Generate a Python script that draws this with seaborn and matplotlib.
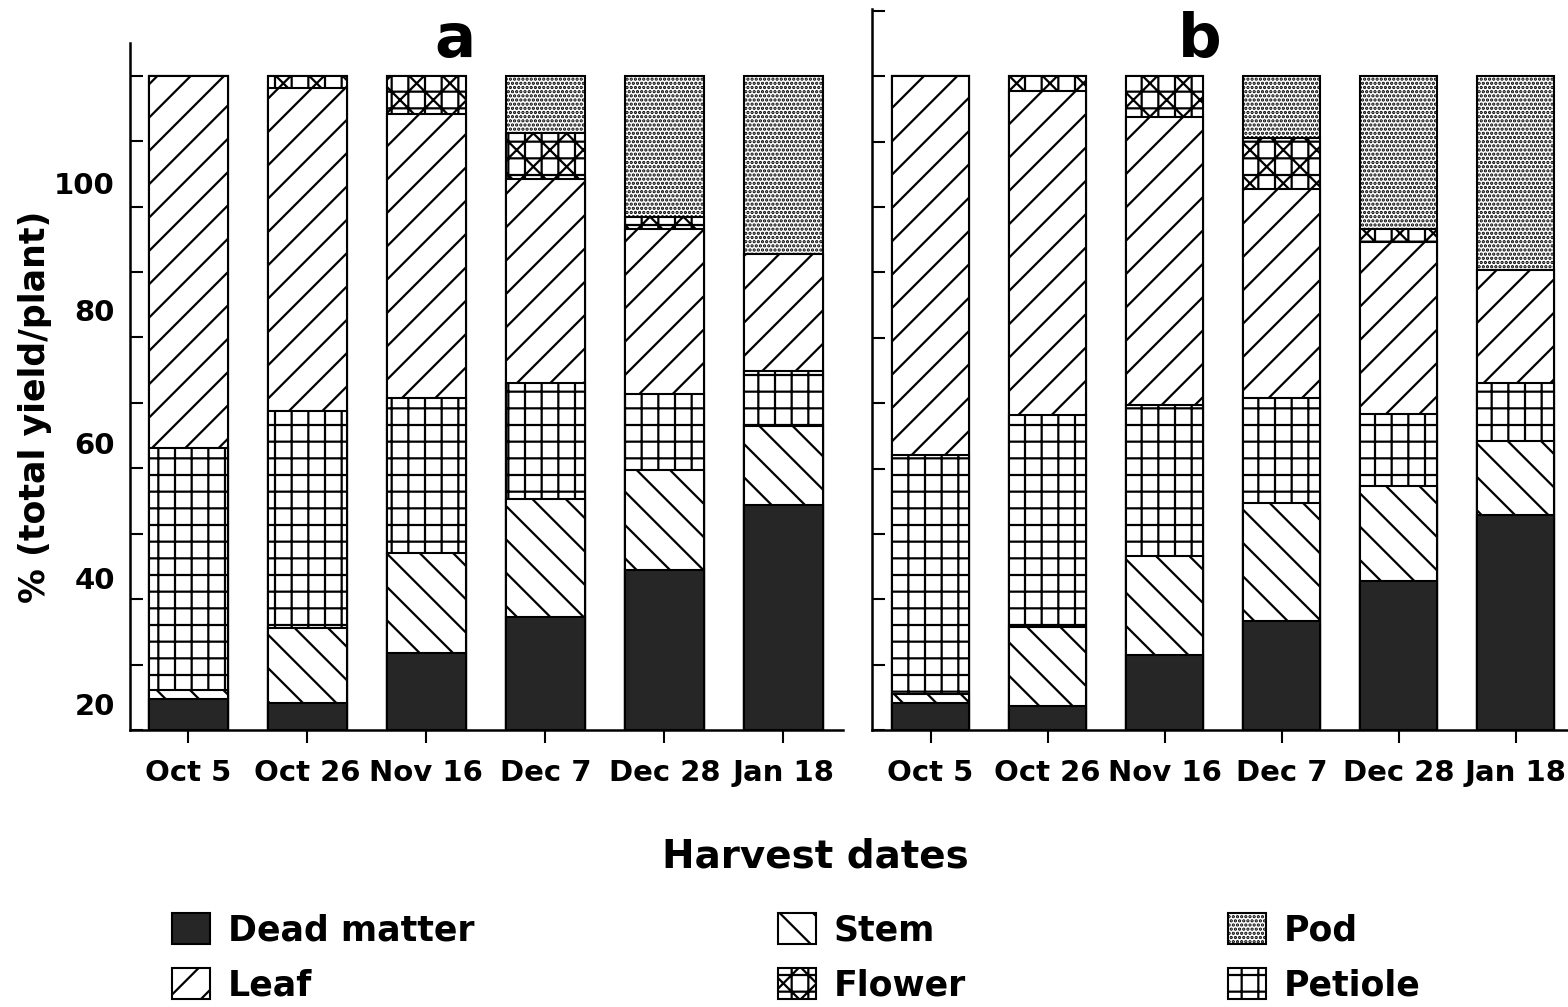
import numpy as np
import matplotlib
matplotlib.use("Agg")
import matplotlib.pyplot as plt
from matplotlib.patches import Patch
import seaborn as sns

# ---------------- data ----------------
dates = ["Oct 5", "Oct 26", "Nov 16", "Dec 7", "Dec 28", "Jan 18"]
# stacking order, bottom -> top
components = ["Dead matter", "Stem", "Petiole", "Leaf", "Flower", "Pod"]

# panel a (% of total yield/plant)
a_dead = [4.7, 4.1, 11.8, 17.3, 24.4, 34.4]
a_stem = [1.4, 11.5, 15.3, 18.0, 15.3, 12.0]
a_petiole = [37.0, 33.1, 23.6, 17.8, 11.6, 8.5]
a_leaf = [56.9, 49.4, 43.5, 31.1, 25.2, 17.9]
a_flower = [0.0, 1.9, 5.8, 7.1, 1.9, 0.0]
a_pod = [0.0, 0.0, 0.0, 8.7, 21.6, 27.2]

# panel b
b_dead = [4.1, 3.7, 11.4, 16.6, 22.8, 32.9]
b_stem = [1.4, 12.0, 15.2, 18.2, 14.6, 11.3]
b_petiole = [36.5, 32.5, 23.1, 16.0, 11.0, 8.9]
b_leaf = [58.0, 49.5, 44.1, 31.9, 26.3, 17.2]
b_flower = [0.0, 2.3, 6.2, 7.9, 2.0, 0.0]
b_pod = [0.0, 0.0, 0.0, 9.4, 23.3, 29.7]

# y-axis tick labels as printed in the original figure
ytick_labels = ["20", "40", "60", "80", "100"]
ytick_label_pos = [4.0, 23.2, 43.9, 64.2, 83.6]

# legend layout (columns)
legend_cols = [["Dead matter", "Leaf"], ["Stem", "Flower"], ["Pod", "Petiole"]]

# ---------------- style ----------------
sns.set_style("ticks")
plt.rcParams["font.family"] = ["DejaVu Sans"]
plt.rcParams["font.weight"] = "bold"
plt.rcParams["hatch.linewidth"] = 1.6
plt.rcParams["hatch.color"] = "black"
for k in ("text.color", "axes.labelcolor", "xtick.color", "ytick.color",
          "axes.edgecolor"):
    plt.rcParams[k] = "black"

styles = {
    "Dead matter": dict(color="#262626", hatch=""),
    "Stem": dict(color="white", hatch="\\"),
    "Petiole": dict(color="white", hatch="+"),
    "Leaf": dict(color="white", hatch="/"),
    "Flower": dict(color="white", hatch="+x"),
    "Pod": dict(color="white", hatch="...."),
}

W, H = 1568, 1007
fig = plt.figure(figsize=(W / 100, H / 100), dpi=100)
fig.patch.set_facecolor("white")

ax_a = fig.add_axes([130 / W, (H - 730) / H, 713 / W, 687 / H])
ax_b = fig.add_axes([872 / W, (H - 730) / H, 702 / W, 721 / H])


def draw_panel(ax, parts, ymax):
    cum = np.cumsum(np.array(parts), axis=0)
    # draw cumulative bars from the top component down so lower parts overlay
    for i in range(len(components) - 1, -1, -1):
        st = styles[components[i]]
        sns.barplot(x=dates, y=cum[i], order=dates, ax=ax,
                    color=st["color"], hatch=st["hatch"], edgecolor="black",
                    linewidth=1.5, width=0.66, saturation=1, errorbar=None)
    ax.set_ylim(0, ymax)
    ax.set_xlabel("")
    ax.set_ylabel("")
    sns.despine(ax=ax)
    for s in ("left", "bottom"):
        ax.spines[s].set_linewidth(1.8)
        ax.spines[s].set_color("black")
    ax.set_yticks(np.arange(0, ymax + 0.1, 10), minor=True)
    ax.tick_params(axis="y", which="minor", direction="in", length=9.5,
                   width=1.5, color="black")
    ax.tick_params(axis="x", which="major", direction="out", length=9,
                   width=1.5, color="black", pad=12, labelsize=21,
                   labelcolor="black")
    for lab in ax.get_xticklabels():
        lab.set_fontweight("bold")


draw_panel(ax_a, [a_dead, a_stem, a_petiole, a_leaf, a_flower, a_pod], 105)
draw_panel(ax_b, [b_dead, b_stem, b_petiole, b_leaf, b_flower, b_pod], 110.3)
ax_a.set_xlim(-0.49, 5.5)
ax_b.set_xlim(-0.5, 5.5)

ax_a.set_yticks(ytick_label_pos, ytick_labels)
ax_a.tick_params(axis="y", which="major", length=0, pad=11, labelsize=21,
                 labelcolor="black")
for lab in ax_a.get_yticklabels():
    lab.set_fontweight("bold")
ax_b.set_yticks([])

ax_a.set_ylabel("% (total yield/plant)", fontsize=25, fontweight="bold",
                color="black")
ax_a.yaxis.set_label_coords(-0.11, 0.47)

ax_a.text(0.456, 0.98, "a", transform=ax_a.transAxes, ha="center",
          va="baseline", fontsize=44, fontweight="bold")
ax_b.text(0.467, 0.933, "b", transform=ax_b.transAxes, ha="center",
          va="baseline", fontsize=44, fontweight="bold")

fig.text(815 / W, 1 - 856 / H, "Harvest dates", ha="center", va="center",
         fontsize=28, fontweight="bold")

col_x = [172 / W, 778 / W, 1228 / W]
for cx, names in zip(col_x, legend_cols):
    handles = [Patch(facecolor=styles[n]["color"], hatch=styles[n]["hatch"],
                     edgecolor="black", linewidth=1.5, label=n) for n in names]
    fig.legend(handles=handles, loc="upper left", bbox_to_anchor=(cx, 1 - 913 / H),
               frameon=False, prop={"weight": "bold", "size": 25},
               labelcolor="black",
               handlelength=1.1, handleheight=1.0, handletextpad=0.5,
               labelspacing=0.59, borderpad=0, borderaxespad=0)

fig.savefig("out.png", dpi=100)
